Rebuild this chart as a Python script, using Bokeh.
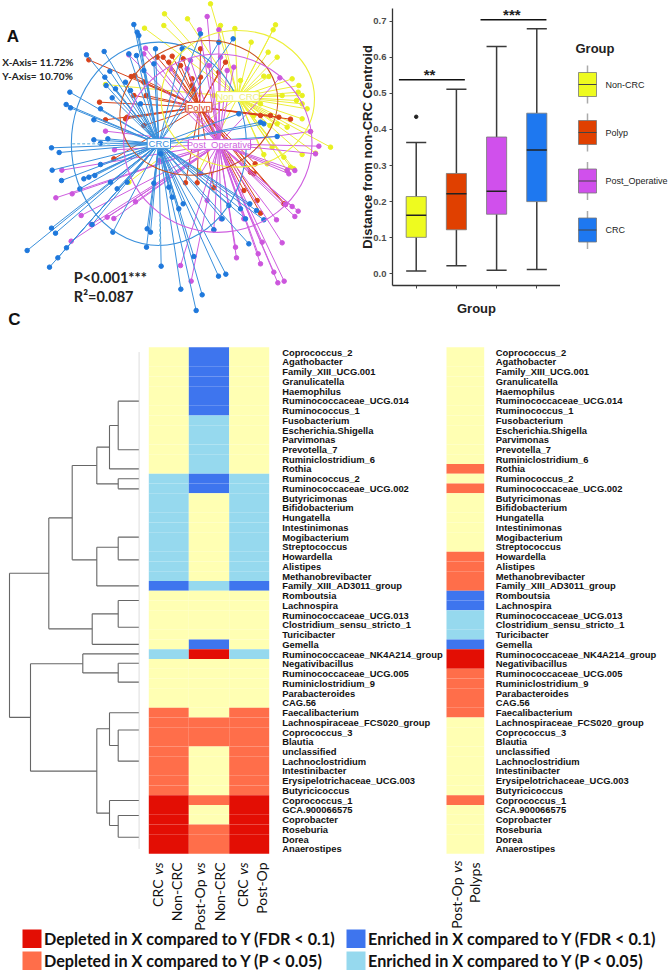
from bokeh.plotting import figure
from bokeh.layouts import column, row
from bokeh.models import Range1d, Label, FixedTicker, NumeralTickFormatter
from bokeh.core.properties import value
from bokeh.embed import file_html
from bokeh.resources import INLINE

# ---------- Panel A data (ordination, plot units) ----------
crc_x = [400,410,415,258,311,328,313,317,208,197,210,300,280,335,375,385,408,465,545,600,698,655,153,176,280,322,300,155,183,250,265,283,300,330,238,350,380,153,165,80,198,172,147,337,275,438,440,450,482,541,587,605,654,676,580,640,665,685,745,790,768,748,720,735,548,535,460,505,515,480,790,780,715,830,460,430,345,390,420]
crc_y = [72,95,105,163,153,212,230,255,275,312,322,325,358,292,245,160,165,145,145,100,115,125,442,456,418,415,428,509,540,535,530,525,492,545,565,565,545,683,698,750,742,772,800,695,672,740,685,695,797,866,930,883,827,821,768,688,655,615,730,658,630,610,625,655,610,625,548,560,590,460,370,365,340,408,190,210,265,270,310]
non_x = [630,492,490,432,561,660,825,818,703,752,803,830,790,805,875,895,905,893,905,920,888,845,905,830,808,790,905,945,990,930,850,880,860,800,640,588,315,385,595,720,700,780,760,870,815,860]
non_y = [10,40,75,83,55,75,73,88,84,125,155,170,227,228,235,255,285,275,310,325,300,285,355,370,375,462,462,458,440,393,470,505,510,490,285,330,252,545,510,240,275,310,345,500,440,380]
pol_x = [265,297,315,375,380,392,403,430,437,400,505,515,548,575,580,600,675,655,600,780,870,810,835,764,750,760,850,855,780,730,640,590,555,340,430,470,540,488,575,770]
pol_y = [178,305,358,355,350,228,225,245,285,285,185,167,175,255,265,145,185,215,230,345,356,345,350,490,515,520,610,612,638,570,562,547,547,475,375,170,195,170,235,600]
pst_x = [597,655,620,435,430,385,510,560,625,680,838,315,342,184,215,166,242,320,340,272,405,212,540,572,640,662,708,773,780,845,820,832,851,785,828,883,893,875,860,865,883,955,930,945,730,705,620,855,475,600,700,660,570]
pst_y = [88,88,48,143,160,163,205,205,195,210,232,392,448,509,580,592,645,650,654,672,604,722,795,842,688,655,772,760,790,727,815,847,842,725,658,648,632,618,510,520,510,437,393,460,655,740,600,612,480,520,200,170,180]

# ---------- Panel B data ----------
groups = ["Non-CRC", "Polyp", "Post_Operative", "CRC"]
box_pos = [1, 2, 3, 4]
whisk_lo = [0.008, 0.022, 0.010, 0.012]
q1 = [0.101, 0.122, 0.165, 0.200]
median = [0.162, 0.222, 0.229, 0.343]
q3 = [0.214, 0.278, 0.379, 0.445]
whisk_hi = [0.364, 0.511, 0.630, 0.679]
outlier_x = [1]
outlier_y = [0.435]
box_colors = ["#EEFB1F", "#E04000", "#D050EC", "#1E78F0"]

# ---------- Panel C data ----------
genera = ["Coprococcus_2","Agathobacter","Family_XIII_UCG.001","Granulicatella","Haemophilus","Ruminococcaceae_UCG.014","Ruminococcus_1","Fusobacterium","Escherichia.Shigella","Parvimonas","Prevotella_7","Ruminiclostridium_6","Rothia","Ruminococcus_2","Ruminococcaceae_UCG.002","Butyricimonas","Bifidobacterium","Hungatella","Intestinimonas","Mogibacterium","Streptococcus","Howardella","Alistipes","Methanobrevibacter","Family_XIII_AD3011_group","Romboutsia","Lachnospira","Ruminococcaceae_UCG.013","Clostridium_sensu_stricto_1","Turicibacter","Gemella","Ruminococcaceae_NK4A214_group","Negativibacillus","Ruminococcaceae_UCG.005","Ruminiclostridium_9","Parabacteroides","CAG.56","Faecalibacterium","Lachnospiraceae_FCS020_group","Coprococcus_3","Blautia","unclassified","Lachnoclostridium","Intestinibacter","Erysipelotrichaceae_UCG.003","Butyricicoccus","Coprococcus_1","GCA.900066575","Coprobacter","Roseburia","Dorea","Anaerostipes"]
# N none, d depleted P<0.05, D depleted FDR, e enriched P<0.05, E enriched FDR
crc_vs_non = list("NNNNNNNNNNNNNeeeeeeeeeeeENNNNNNeNNNNNdddddddddDDDDDD")
post_vs_non = list("EEEEEEEeeeeeeEENNNNNNNNNeNNNNNEDNNNNNNdddNNNNNdNNddd")
crc_vs_post = list("NNNNNNNNNNNNNeeeeeeeeeeeENNNNNNeNNNNNdddddddddDDDDDD")
post_vs_pol = list("NNNNNNNNNNNNdNdNNNNNNddddEEeeeEDDdddddNNNNNNNNdNNNNN")
state_color = {"N": "#FFFFB3", "d": "#FF6E4A", "D": "#E30E04", "e": "#96D9EE", "E": "#3E75EE"}

# dendrogram merges: merge height, then (row, child height) of both branches
merge_x  = [117.7,109,117.7,96.3,117.7,96.3,71.7,117.7,91.7,48.3,117.7,82.3,117.7,109,117.7,109,96.3,30,9]
merge_ya = [5.54,8.04,13.51,10.26,19.5,20.53,12.15,26.0,27.37,17.52,32.44,31.48,39.3,37.53,48.07,46.53,39.17,32.5,23.2]
merge_xa = [138.3,117.7,138.3,109,138.3,117.7,96.3,138.3,117.7,71.7,138.3,138.3,138.3,138.3,138.3,138.3,109,82.3,48.3]
merge_yb = [10.53,12.49,14.54,14.03,21.83,24.5,21.83,28.74,30.5,28.91,34.38,33.43,42.49,40.88,50.3,49.1,47.83,43.52,38.0]
merge_xb = [138.3,138.3,138.3,117.7,138.3,138.3,96.3,138.3,138.3,91.7,138.3,117.7,138.3,117.7,138.3,117.7,109,96.3,30]

legend_text = ["Depleted in X compared to Y (FDR < 0.1)", "Depleted in X compared to Y (P < 0.05)",
               "Enriched in X compared to Y (FDR < 0.1)", "Enriched in X compared to Y (P < 0.05)"]
legend_state = ["D", "d", "E", "e"]

SANS = "Liberation Sans"
CAL = "Lato"

# ========== Panel A ==========
A = figure(width=340, height=320, x_range=Range1d(0, 1020), y_range=Range1d(960, 0),
           x_axis_location=None, y_axis_location=None, frame_align=False,
           output_backend="svg", toolbar_location=None, min_border=0)
A.grid.visible = False
A.outline_line_color = None

series = [
    (non_x, non_y, 712, 290, "#EDEF3A", "#E8F020"),
    (pol_x, pol_y, 597, 320, "#D8431A", "#D8401A"),
    (pst_x, pst_y, 655, 430, "#CF5FE0", "#CC55DD"),
    (crc_x, crc_y, 475, 430, "#3A90DC", "#1E78DC"),
]
for xs, ys, cx, cy, lc, pc in series:
    A.segment(x0=[cx]*len(xs), y0=[cy]*len(xs), x1=xs, y1=ys, line_color=lc, line_width=1)
    A.scatter(xs, ys, size=4.5, color=pc, line_color=pc)

A.ellipse(x=[475], y=[430], width=[525], height=[610], fill_color=None, line_color="#3A90DC", line_width=1.1)
A.ellipse(x=[712], y=[295], width=[460], height=[410], fill_color=None, line_color="#EDEF3A", line_width=1.1)
A.ellipse(x=[595], y=[322], width=[480], height=[395], angle=[0.3], fill_color=None, line_color="#C8501E", line_width=1.1)
A.ellipse(x=[652], y=[428], width=[565], height=[535], fill_color=None, line_color="#CF5FE0", line_width=1.1)
A.line([215, 330], [430, 430], line_color="#8CC8E8", line_width=1.5, line_dash="3 2")
A.line([478, 478], [640, 735], line_color="#8CC8E8", line_width=1.5, line_dash="3 2")

for name, cx, cy, w, lc, tc in [
    ("Non_CRC", 712, 288, 128, "#EDEF3A", "#EEEE80"),
    ("Polyp", 595, 320, 78, "#D8431A", "#D8431A"),
    ("CRC", 475, 429, 70, "#3A90DC", "#3A90DC"),
    ("Post_Operative", 657, 432, 186, "#CF5FE0", "#CF5FE0"),
]:
    A.rect(x=[cx], y=[cy], width=[w], height=[29], fill_color="white", line_color=lc, line_width=1)
    A.text(x=[cx], y=[cy], text=[name], text_align="center", text_baseline="middle",
           text_color=tc, text_font=value(SANS), text_font_size="9.5px")

A.text(x=[37], y=[108], text=["A"], text_align="center", text_baseline="middle", text_color="#111",
       text_font=value(SANS), text_font_style="bold", text_font_size="17px")
A.text(x=[5, 5], y=[185, 226], text=["X-Axis= 11.72%", "Y-Axis= 10.70%"], text_baseline="middle",
       text_color="#222", text_font=value(CAL), text_font_style="bold", text_font_size="10px")
A.text(x=[220, 220], y=[832, 887], text=["P<0.001***", "R²=0.087"], text_baseline="middle",
       text_color="#222", text_font=value(CAL), text_font_style="bold", text_font_size="14.5px")

# ========== Panel B ==========
B = figure(width=220, height=320, x_range=Range1d(0.41, 4.59), y_range=Range1d(-0.0324, 0.735),
           frame_width=168, frame_height=277, frame_align=False,
           output_backend="svg", toolbar_location=None, min_border_left=52, min_border_right=0,
           min_border_top=8, min_border_bottom=35)
B.grid.visible = False
B.outline_line_color = None
B.xaxis.ticker = FixedTicker(ticks=box_pos)
B.xaxis.major_label_text_color = None
B.xaxis.major_label_text_font_size = "1px"
B.xaxis.major_label_standoff = 0
B.xaxis.axis_label = "Group"
B.xaxis.axis_label_standoff = 12
B.yaxis.ticker = FixedTicker(ticks=[0, 0.1, 0.2, 0.3, 0.4, 0.5, 0.6, 0.7])
B.yaxis.formatter = NumeralTickFormatter(format="0.0")
B.yaxis.axis_label = "Distance from non-CRC Centroid"
B.yaxis.axis_label_standoff = -5
B.yaxis.major_label_standoff = 3
for ax in (B.xaxis[0], B.yaxis[0]):
    ax.axis_line_color = "#333"
    ax.axis_line_width = 1.3
    ax.major_tick_line_color = "#444"
    ax.major_tick_out = 3
    ax.major_tick_in = 0
    ax.minor_tick_line_color = None
    ax.axis_label_text_font = SANS
    ax.axis_label_text_font_style = "bold"
    ax.axis_label_text_font_size = "13px"
    ax.axis_label_text_color = "#222"
B.yaxis.major_label_text_font = SANS
B.yaxis.major_label_text_font_style = "bold"
B.yaxis.major_label_text_font_size = "9.5px"
B.yaxis.major_label_text_color = "#4d4d4d"

LC = "#3a3a3a"
B.segment(box_pos, whisk_lo, box_pos, q1, line_color=LC, line_width=1.5)
B.segment(box_pos, q3, box_pos, whisk_hi, line_color=LC, line_width=1.5)
B.segment([x-0.25 for x in box_pos], whisk_lo, [x+0.25 for x in box_pos], whisk_lo, line_color=LC, line_width=1.5)
B.segment([x-0.25 for x in box_pos], whisk_hi, [x+0.25 for x in box_pos], whisk_hi, line_color=LC, line_width=1.5)
B.quad(left=[x-0.25 for x in box_pos], right=[x+0.25 for x in box_pos], bottom=q1, top=q3,
       fill_color=box_colors, line_color="#777", line_width=0.8)
B.segment([x-0.25 for x in box_pos], median, [x+0.25 for x in box_pos], median, line_color="#222", line_width=1.5)
B.scatter(outlier_x, outlier_y, size=3.5, color="#222")
B.segment([0.57, 2.6], [0.5375, 0.7037], [2.21, 4.24], [0.5375, 0.7037], line_color="#111", line_width=1.5)
B.text(x=[1.33, 3.38], y=[0.552, 0.718], text=["**", "***"], text_align="center", text_baseline="middle",
       text_color="#222", text_font=value(SANS), text_font_style="bold", text_font_size="15px")
B.add_layout(Label(x=-0.6, y=0.6575, text="B", text_align="center", text_baseline="middle", text_color="#111",
                   text_font=SANS, text_font_style="bold", text_font_size="17px"))

# ========== legend of panel B ==========
L = figure(width=108, height=320, x_range=Range1d(560, 668), y_range=Range1d(320, 0),
           x_axis_location=None, y_axis_location=None, frame_align=False,
           output_backend="svg", toolbar_location=None, min_border=0)
L.grid.visible = False
L.outline_line_color = None
leg_top = [72, 120, 168.5, 217.5]
leg_h = 24
L.text(x=[575], y=[48], text=["Group"], text_baseline="middle", text_color="#222",
       text_font=value(SANS), text_font_style="bold", text_font_size="13px")
for name, col, t in zip(groups, box_colors, leg_top):
    L.segment([587], [t-7], [587], [t+leg_h+7], line_color="#aaa", line_width=1.5)
    L.quad(left=[578], right=[596], top=[t], bottom=[t+leg_h], fill_color=col, line_color="#777", line_width=0.8)
    L.segment([578], [t+leg_h/2], [596], [t+leg_h/2], line_color="#444", line_width=1)
    L.text(x=[605], y=[t+leg_h/2], text=[name], text_baseline="middle", text_color="#222",
           text_font=value(SANS), text_font_size="9px")

# ========== Panel C ==========
RH = 9.742
TOP = 346.7
def ry(py):
    return (py - TOP) / RH

C = figure(width=668, height=661, x_range=Range1d(0, 668), y_range=Range1d(ry(971), ry(310)),
           x_axis_location=None, y_axis_location=None, border_fill_color=None, background_fill_color=None,
           frame_align=False,
           output_backend="svg", toolbar_location=None, min_border=0, margin=(-10, 0, 0, 0))
C.grid.visible = False
C.outline_line_color = None

rows = [i + 0.5 for i in range(len(genera))]
for col, left, w in [(crc_vs_non, 148.3, 40), (post_vs_non, 188.3, 40.4), (crc_vs_post, 228.7, 40), (post_vs_pol, 446, 37.7)]:
    C.quad(left=[left]*len(rows), right=[left+w]*len(rows), top=[r-0.5 for r in rows], bottom=[r+0.5 for r in rows],
           fill_color=[state_color[s] for s in col], line_color=None)

C.line([138.6, 138.6], [0.5, 51.5], line_color="#ddd", line_width=1)
C.segment(merge_x, merge_ya, merge_x, merge_yb, line_color="#666", line_width=1.1)
C.segment(merge_x, merge_ya, merge_xa, merge_ya, line_color="#666", line_width=1.1)
C.segment(merge_x, merge_yb, merge_xb, merge_yb, line_color="#666", line_width=1.1)

for tx in (281.7, 495.3):
    C.text(x=[tx]*len(genera), y=rows, text=genera, text_baseline="middle", text_color="#111",
           text_font=value(SANS), text_font_style="bold", text_font_size="9.4px")
C.text(x=[14], y=[ry(319)], text=["C"], text_align="center", text_baseline="middle", text_color="#111",
       text_font=value(SANS), text_font_style="bold", text_font_size="17px")

# rotated column captions
caps = [(175.5, "Non-CRC", 862), (218.5, "Non-CRC", 862), (260.5, "Post-Op", 862), (474, "Polyps", 862)]
for x, t, y in caps:
    C.text(x=[x], y=[ry(y)], text=[t], angle=[1.5708], text_align="right", text_baseline="middle", text_color="#111",
           text_font=value(CAL), text_font_size="14px")
vs = [(157, "CRC", 862), (199, "Post-Op", 862), (242, "CRC", 862), (455.5, "Post-Op", 860)]
for x, t, y in vs:
    C.text(x=[x], y=[ry(y)], text=["vs"], angle=[1.5708], text_align="right", text_baseline="middle", text_color="#111",
           text_font=value(CAL), text_font_style="italic", text_font_size="14px")
    C.text(x=[x], y=[ry(y+17)], text=[t], angle=[1.5708], text_align="right", text_baseline="middle", text_color="#111",
           text_font=value(CAL), text_font_size="14px")

for t, s, x, y in zip(legend_text, legend_state, [22, 22, 346, 346], [929, 951, 929, 951]):
    C.quad(left=[x], right=[x+19], top=[ry(y)], bottom=[ry(y+18.5)], fill_color=state_color[s], line_color=None)
    C.text(x=[x+21.5], y=[ry(y+9)], text=[t], text_baseline="middle", text_color="#111",
           text_font=value(CAL), text_font_style="bold", text_font_size="16.2px")

root = column(row(A, B, L, spacing=0), C, spacing=0, margin=(0, 0, 0, 0))
open("out.html", "w").write(file_html(root, INLINE))
